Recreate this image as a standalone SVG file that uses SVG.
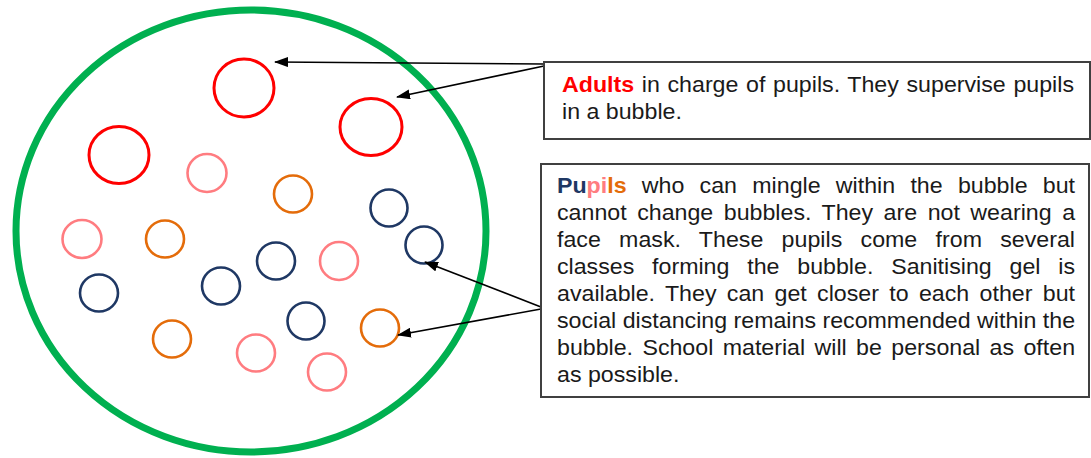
<svg xmlns="http://www.w3.org/2000/svg" width="1091" height="458" viewBox="0 0 1091 458">
<style>
.txt{font-family:"Liberation Sans",Arial,sans-serif;font-size:22px;fill:#1a1a1a}
.box{fill:#fff;stroke:#404040;stroke-width:2}
.adult{fill:none;stroke:#FF0000;stroke-width:3}
.pink{fill:none;stroke:#FF7C80;stroke-width:2.6}
.orange{fill:none;stroke:#E46C0A;stroke-width:2.6}
.navy{fill:none;stroke:#1F3864;stroke-width:2.6}
.conn{fill:none;stroke:#000;stroke-width:1.6;marker-end:url(#arr)}
</style>
<defs>
<marker id="arr" viewBox="0 0 14 10" refX="13" refY="5" markerWidth="14" markerHeight="10" markerUnits="userSpaceOnUse" orient="auto">
<path d="M0,0 L14,5 L0,10 z" fill="#000"/>
</marker>
</defs>
<rect width="1091" height="458" fill="#fff"/>
<g id="bubble">
<ellipse cx="251" cy="231" rx="235" ry="221" fill="none" stroke="#00B050" stroke-width="7"/>
</g>
<g id="adults">
<ellipse id="adult-1" class="adult" cx="244" cy="88" rx="30" ry="29"/>
<ellipse id="adult-2" class="adult" cx="371" cy="127" rx="31" ry="28.5"/>
<ellipse id="adult-3" class="adult" cx="119" cy="155" rx="30" ry="28.5"/>
</g>
<g id="pupils">
<ellipse class="pink" cx="207" cy="173" rx="19.5" ry="19"/>
<ellipse class="pink" cx="82" cy="239" rx="19.5" ry="19"/>
<ellipse class="pink" cx="339" cy="261" rx="19" ry="19"/>
<ellipse class="pink" cx="256" cy="353" rx="19" ry="18.5"/>
<ellipse class="pink" cx="327" cy="372" rx="19" ry="18.5"/>
<ellipse class="orange" cx="293" cy="194" rx="19" ry="18.5"/>
<ellipse class="orange" cx="165" cy="239" rx="19" ry="18.5"/>
<ellipse class="orange" cx="172" cy="339" rx="19" ry="18.5"/>
<ellipse id="pupil-orange-4" class="orange" cx="380" cy="328" rx="19" ry="18.5"/>
<ellipse class="navy" cx="389" cy="208" rx="18.5" ry="18.5"/>
<ellipse id="pupil-navy-2" class="navy" cx="424" cy="245" rx="18.5" ry="18.5"/>
<ellipse class="navy" cx="276" cy="261" rx="19" ry="18.5"/>
<ellipse class="navy" cx="221" cy="286" rx="19" ry="18.5"/>
<ellipse class="navy" cx="99" cy="293" rx="19" ry="18.5"/>
<ellipse class="navy" cx="306" cy="321" rx="18.5" ry="18.5"/>
</g>
<g id="connectors">
<line class="conn" x1="544" y1="64" x2="275" y2="62"/>
<line class="conn" x1="544" y1="66" x2="397" y2="97"/>
<line class="conn" x1="541" y1="307" x2="425" y2="262"/>
<line class="conn" x1="541" y1="309" x2="398" y2="335"/>
</g>
<g id="box-adults">
<rect class="box" x="544" y="62" width="546" height="77"/>
<g transform="translate(562,0) scale(1.054,1)">
<text class="txt" x="0" y="92" word-spacing="1.1" textLength="485.8" lengthAdjust="spacing"><tspan font-weight="bold" fill="#FF0000">Adults</tspan> in charge of pupils. They supervise pupils</text>
<text class="txt" x="0" y="119">in a bubble.</text>
</g>
</g>
<g id="box-pupils">
<rect class="box" x="541" y="164" width="548" height="233"/>
<g transform="translate(557,0) scale(1.054,1)">
<text class="txt" x="0" y="193" word-spacing="8.37" textLength="491.5" lengthAdjust="spacing"><tspan font-weight="bold" fill="#1F3864">Pu</tspan><tspan font-weight="bold" fill="#FF7C80">pi</tspan><tspan font-weight="bold" fill="#E46C0A">ls</tspan> who can mingle within the bubble but</text>
<text class="txt" x="0" y="220" word-spacing="3.83" textLength="491.5" lengthAdjust="spacing">cannot change bubbles. They are not wearing a</text>
<text class="txt" x="0" y="247" word-spacing="11.2" textLength="491.5" lengthAdjust="spacing">face mask. These pupils come from several</text>
<text class="txt" x="0" y="274" word-spacing="10.8" textLength="491.5" lengthAdjust="spacing">classes forming the bubble. Sanitising gel is</text>
<text class="txt" x="0" y="301" word-spacing="3.66" textLength="491.5" lengthAdjust="spacing">available. They can get closer to each other but</text>
<text class="txt" x="0" y="328" textLength="491.5" lengthAdjust="spacing">social distancing remains recommended within the</text>
<text class="txt" x="0" y="355" word-spacing="2.79" textLength="491.5" lengthAdjust="spacing">bubble. School material will be personal as often</text>
<text class="txt" x="0" y="382">as possible.</text>
</g>
</g>
</svg>
